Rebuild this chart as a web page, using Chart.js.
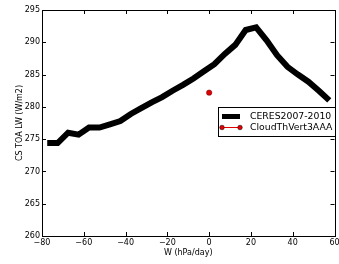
<!DOCTYPE html>
<html>
<head>
<meta charset="utf-8">
<script src="https://cdn.jsdelivr.net/npm/chart.js@4/dist/chart.umd.min.js"></script>
<style>
  html, body { margin: 0; padding: 0; background: #fff; }
  #wrap { width: 339px; height: 264px; }
</style>
</head>
<body>
<div id="wrap"><canvas id="c"></canvas></div>
<script>
//data
const wBins = [-77.5,-72.5,-67.5,-62.5,-57.5,-52.5,-47.5,-42.5,-37.5,-32.5,-27.5,-22.5,-17.5,-12.5,-7.5,-2.5,2.5,7.5,12.5,17.5,22.5,27.5,32.5,37.5,42.5,47.5,52.5,57.5];
const ceres = [274.4,274.4,276.0,275.7,276.8,276.8,277.3,277.8,278.9,279.8,280.7,281.5,282.5,283.4,284.4,285.5,286.6,288.2,289.6,291.9,292.3,290.3,288.0,286.2,285.0,283.9,282.5,281.0];
const modelW = [0];
const modelLw = [282.2];
const xTicks = [-80,-60,-40,-20,0,20,40,60];
const yTicks = [260,265,270,275,280,285,290,295];

const FONT = "DejaVu Sans";

const toPts = (xs, ys) => xs.map((x, i) => ({ x: x, y: ys[i] }));

//frame, inward ticks and legend like matplotlib
const mplLook = {
  id: "mplLook",
  afterDraw(chart) {
    const ctx = chart.ctx;
    const a = chart.chartArea;
    const xs = chart.scales.x, ys = chart.scales.y;
    ctx.save();
    ctx.strokeStyle = "#000";
    ctx.lineWidth = 1;
    ctx.beginPath();
    xTicks.forEach(v => {
      const px = Math.round(xs.getPixelForValue(v)) + 0.5;
      ctx.moveTo(px, a.bottom); ctx.lineTo(px, a.bottom - 4);
      ctx.moveTo(px, a.top); ctx.lineTo(px, a.top + 4);
    });
    yTicks.forEach(v => {
      const py = Math.round(ys.getPixelForValue(v)) + 0.5;
      ctx.moveTo(a.left, py); ctx.lineTo(a.left + 4, py);
      ctx.moveTo(a.right, py); ctx.lineTo(a.right - 4, py);
    });
    ctx.stroke();
    ctx.strokeRect(Math.round(a.left) + 0.5, Math.round(a.top) + 0.5,
                   Math.round(a.right - a.left), Math.round(a.bottom - a.top));

    // legend box
    const bx = 218.5, by = 107.5, bw = Math.round(a.right) - 218, bh = 29;
    ctx.fillStyle = "#fff";
    ctx.fillRect(bx, by, bw, bh);
    ctx.strokeStyle = "#000";
    ctx.strokeRect(bx, by, bw, bh);
    const ds = chart.data.datasets;
    ctx.font = "9.3px '" + FONT + "'";
    ctx.textBaseline = "middle";
    ctx.fillStyle = "#000";
    // row 1
    ctx.strokeStyle = "#000";
    ctx.lineWidth = 5;
    ctx.beginPath(); ctx.moveTo(222, 116.5); ctx.lineTo(240, 116.5); ctx.stroke();
    ctx.fillText(ds[0].label, 250, 117);
    // row 2
    ctx.strokeStyle = "#e00000";
    ctx.lineWidth = 1;
    ctx.beginPath(); ctx.moveTo(222, 127.5); ctx.lineTo(240, 127.5); ctx.stroke();
    [222, 240].forEach(px => {
      ctx.beginPath(); ctx.arc(px, 127.5, 2.3, 0, Math.PI * 2);
      ctx.fillStyle = "#e00000"; ctx.fill();
      ctx.strokeStyle = "#000"; ctx.lineWidth = 0.5; ctx.stroke();
    });
    ctx.fillStyle = "#000";
    ctx.fillText(ds[1].label, 250, 128);
    ctx.restore();
  }
};

new Chart(document.getElementById("c"), {
  type: "scatter",
  data: {
    datasets: [
      {
        label: "CERES2007-2010",
        data: toPts(wBins, ceres),
        showLine: true,
        borderColor: "#000",
        borderWidth: 6,
        pointRadius: 0,
        borderJoinStyle: "miter"
      },
      {
        label: "CloudThVert3AAA",
        data: toPts(modelW, modelLw),
        showLine: true,
        borderColor: "#e00000",
        backgroundColor: "#e00000",
        borderWidth: 1,
        pointRadius: 2.7,
        pointBorderColor: "#600",
        pointBorderWidth: 0.5
      }
    ]
  },
  options: {
    responsive: true,
    maintainAspectRatio: false,
    animation: false,
    layout: { padding: { top: 10, right: 3, left: 0, bottom: 0 } },
    plugins: {
      legend: { display: false },
      tooltip: { enabled: false }
    },
    scales: {
      x: {
        type: "linear",
        min: -80, max: 60,
        afterBuildTicks: s => { s.ticks = xTicks.map(v => ({ value: v })); },
        afterFit: s => { s.height = 28; s.paddingRight = 0; s.paddingLeft = 0; },
        grid: { display: false, drawTicks: false },
        border: { display: false },
        ticks: {
          color: "#000",
          padding: 2,
          maxRotation: 0,
          font: { family: FONT, size: 8 },
          callback: v => String(v).replace("-", "\u2212")
        },
        title: {
          display: true,
          text: "W (hPa/day)",
          color: "#000",
          font: { family: FONT, size: 8 },
          padding: { top: 0, bottom: 6 }
        }
      },
      y: {
        type: "linear",
        min: 260, max: 295,
        afterBuildTicks: s => { s.ticks = yTicks.map(v => ({ value: v })); },
        afterFit: s => { s.width = 42; s.paddingTop = 0; s.paddingBottom = 0; },
        grid: { display: false, drawTicks: false },
        border: { display: false },
        ticks: {
          color: "#000",
          padding: 2,
          font: { family: FONT, size: 8 }
        },
        title: {
          display: true,
          text: "CS TOA LW (W/m2)",
          color: "#000",
          font: { family: FONT, size: 8 },
          padding: { top: 15, bottom: 0 }
        }
      }
    }
  },
  plugins: [mplLook]
});
</script>
</body>
</html>
